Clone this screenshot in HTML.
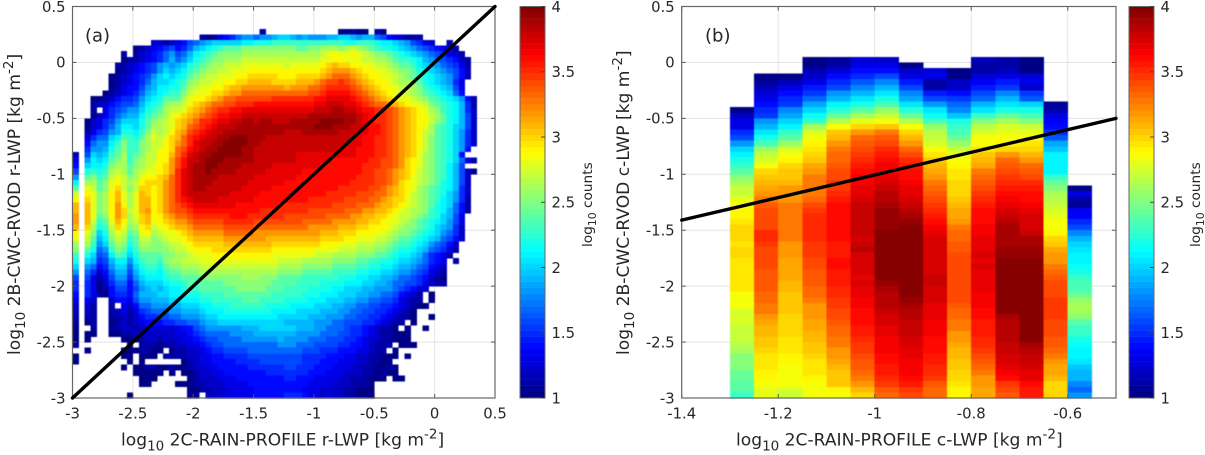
<!DOCTYPE html>
<html>
<head>
<meta charset="utf-8">
<title>LWP comparison histograms</title>
<style>
html,body{margin:0;padding:0;background:#fff;}
svg{display:block;}
text{font-family:"DejaVu Sans","Liberation Sans",sans-serif;fill:#262626;}
.tick{font-size:14.8px;}
.lab{font-size:17.1px;}
.cb{font-size:13.7px;}
</style>
</head>
<body>
<svg id="chart" width="1205" height="455" viewBox="0 0 1205 455" xmlns="http://www.w3.org/2000/svg">
<text class="lab" x="121" y="445.5">log<tspan font-size="13.5" dy="5">10</tspan><tspan dy="-5"> 2C-RAIN-PROFILE r-LWP [kg m</tspan><tspan font-size="13.5" dy="-7">-2</tspan><tspan dy="7">]</tspan></text>
<text class="lab" transform="translate(20,355) rotate(-90)">log<tspan font-size="13.5" dy="5">10</tspan><tspan dy="-5"> 2B-CWC-RVOD r-LWP [kg m</tspan><tspan font-size="13.5" dy="-7">-2</tspan><tspan dy="7">]</tspan></text>
<text class="lab" x="736" y="445.5">log<tspan font-size="13.5" dy="5">10</tspan><tspan dy="-5"> 2C-RAIN-PROFILE c-LWP [kg m</tspan><tspan font-size="13.5" dy="-7">-2</tspan><tspan dy="7">]</tspan></text>
<text class="lab" transform="translate(629,355) rotate(-90)">log<tspan font-size="13.5" dy="5">10</tspan><tspan dy="-5"> 2B-CWC-RVOD c-LWP [kg m</tspan><tspan font-size="13.5" dy="-7">-2</tspan><tspan dy="7">]</tspan></text>
<text class="cb" transform="translate(592,247) rotate(-90)">log<tspan font-size="10.8" dy="4">10</tspan><tspan dy="-4"> counts</tspan></text>
<text class="cb" transform="translate(1200,247) rotate(-90)">log<tspan font-size="10.8" dy="4">10</tspan><tspan dy="-4"> counts</tspan></text>
<text x="85" y="41.5" font-size="18">(a)</text>
<text x="705" y="41.5" font-size="18">(b)</text>
</svg>
<script>
// Panel (a): tenths of log10 counts; rows run top (0.25..0.30) to bottom (-3..-2.95), columns from x=-3 in 0.05 bins; 0 = empty.
var heatmapARows = [
[0,0,0,0,0,0,0,0,0,0,0,0,0,0,0,0,0,0,0,0,0,0,0,0,0,0,0,0,0,0,0,11,0,0,0,0,0,0,0,0,0,0,0,0,10,10,11,10,10,0,11,10],
[0,0,0,0,0,0,0,0,0,0,0,0,0,0,0,0,0,0,0,0,0,11,10,11,13,14,15,17,18,18,17,18,18,19,20,20,19,18,19,18,18,18,19,19,20,20,19,18,19,19,17,16,14,13,12,11,11,11],
[0,0,0,0,0,0,0,0,0,0,0,0,0,12,12,11,12,13,14,16,17,18,19,20,20,20,20,20,21,21,22,22,22,23,23,23,23,23,23,23,23,23,23,23,23,22,22,23,23,23,22,21,21,20,19,18,16,15,13,12,0,0,11],
[0,0,0,0,0,0,0,0,0,0,10,11,12,13,14,15,16,14,15,17,19,20,21,22,23,24,24,24,25,25,25,25,25,25,25,25,25,24,24,25,25,26,26,26,25,26,27,26,25,24,23,22,22,21,20,19,18,17,16,15,14,13,12,11],
[0,0,0,0,0,0,0,0,11,0,11,12,13,14,15,17,18,16,17,19,21,22,23,24,25,25,25,25,26,26,26,26,26,26,26,26,26,26,26,26,26,27,28,29,28,28,29,28,27,26,25,25,24,23,22,21,20,19,18,17,16,15,13,12,11],
[0,0,0,0,0,0,0,0,10,11,11,12,13,14,15,17,19,17,18,20,22,23,24,25,25,26,26,26,27,27,27,27,27,27,27,27,27,27,27,27,27,28,28,29,29,28,28,28,27,27,26,26,25,24,23,23,22,21,19,18,17,16,15,14,12,11],
[0,0,0,0,0,0,0,11,11,12,13,14,15,16,18,19,18,19,20,22,23,24,25,26,26,27,27,27,28,28,28,28,28,28,28,27,28,28,28,28,28,29,30,31,30,30,29,29,28,28,27,27,26,25,24,24,23,21,20,19,18,17,16,15,13,11],
[0,0,0,0,0,0,0,10,11,12,13,14,15,16,18,20,19,20,21,23,24,25,26,26,27,27,28,28,28,29,29,29,29,29,29,29,29,29,29,29,29,30,31,32,32,32,31,30,29,29,28,28,27,26,25,25,24,22,21,20,19,18,17,16,14,12],
[0,0,0,0,0,0,10,11,12,13,14,15,16,18,20,21,20,21,22,24,25,26,27,27,28,28,28,29,29,30,30,30,30,30,29,29,29,30,30,30,30,31,32,33,33,33,32,31,30,29,29,28,28,27,26,25,24,23,22,21,20,19,18,16,14,11],
[0,0,0,0,0,0,10,11,12,13,14,15,17,19,20,20,21,22,23,25,26,27,27,28,28,29,29,30,30,31,31,31,31,30,30,30,30,31,31,31,32,33,34,34,35,34,33,32,31,30,29,29,28,27,26,26,25,24,22,21,20,19,18,15,13],
[0,0,0,0,0,0,10,11,13,14,14,16,18,19,21,21,22,22,24,26,27,28,28,29,29,30,31,31,32,32,32,32,32,32,32,31,32,32,32,33,33,34,35,35,35,35,34,33,32,31,30,29,29,28,27,26,26,25,23,22,21,20,19,16,13],
[0,0,0,0,0,10,11,12,13,14,15,17,19,20,21,22,23,23,25,27,28,28,29,30,30,31,32,32,33,33,33,33,33,33,33,33,33,33,33,34,34,35,36,36,36,36,35,34,33,32,31,30,29,28,28,27,26,25,24,23,22,21,20,17,14],
[0,0,0,10,10,11,12,14,15,15,16,18,20,21,22,24,24,24,26,28,29,29,30,31,32,33,33,34,34,34,34,34,34,35,35,35,35,35,35,35,36,36,37,37,37,37,36,35,34,33,32,31,30,29,28,28,27,26,25,24,23,22,21,20,18,14,11],
[0,0,0,11,12,12,14,15,16,16,17,19,21,22,23,25,26,26,27,29,30,31,32,33,33,34,34,35,35,35,36,36,36,36,36,36,36,36,36,36,37,37,38,38,38,37,37,36,35,34,33,33,32,31,30,29,28,28,27,25,24,23,22,21,19,15,11],
[0,0,0,11,0,13,15,16,17,18,18,20,22,23,24,26,27,27,28,30,31,32,33,34,35,35,36,36,37,37,37,37,37,37,37,37,37,37,37,37,38,38,38,39,39,38,38,37,36,36,35,35,34,33,32,31,30,29,28,26,25,23,22,21,19,15,12],
[0,0,0,10,12,13,15,17,18,19,19,21,23,24,25,26,28,29,30,31,32,33,34,35,36,36,37,37,38,38,38,38,38,38,38,38,38,38,38,39,39,39,39,39,39,39,39,38,37,36,35,35,34,33,32,31,30,29,28,27,26,24,22,21,19,16,12],
[0,0,10,12,13,15,16,18,20,20,20,22,24,25,26,27,28,30,31,32,33,35,35,36,37,37,38,38,39,39,38,39,39,38,38,38,39,39,39,39,39,40,40,40,40,39,39,38,37,36,35,35,34,33,32,31,30,29,29,27,25,24,22,21,19,16,12],
[0,0,10,12,13,15,17,19,21,21,20,22,24,26,26,27,28,30,31,33,34,35,36,37,38,38,38,39,39,39,39,39,39,39,39,39,39,39,39,39,40,40,40,39,39,39,38,38,37,36,36,35,34,33,32,31,30,29,28,26,24,23,22,20,19,16,12],
[0,0,11,13,15,16,18,19,22,22,21,23,25,27,26,27,29,31,32,34,35,36,37,38,38,39,39,39,39,39,39,39,39,39,39,38,38,38,39,39,39,39,39,39,38,38,38,37,37,36,36,35,34,33,32,31,30,29,27,26,24,23,22,20,18,15,12],
[0,0,12,15,17,17,20,21,24,23,22,24,26,28,27,28,30,31,33,35,36,37,38,38,39,39,40,40,40,39,39,39,38,38,38,38,38,38,38,38,38,38,38,38,38,38,37,37,36,36,35,35,34,33,32,31,30,29,27,25,24,23,22,20,18,15,12],
[0,0,14,17,18,18,21,23,25,23,23,25,26,27,27,29,30,32,33,35,37,38,38,39,39,40,40,40,40,39,39,38,38,38,38,38,38,38,38,38,38,38,38,38,38,37,37,37,36,36,35,35,34,33,32,31,30,29,27,25,24,23,22,20,18,15,12],
[0,0,15,18,18,19,22,24,25,23,23,25,26,27,28,29,30,33,34,36,37,38,39,39,40,40,40,40,39,39,38,38,38,38,38,38,38,38,38,38,38,38,38,38,37,37,37,36,36,36,35,35,34,33,32,31,30,28,27,25,24,23,22,20,18,14],
[11,0,16,20,19,20,23,24,26,23,24,25,27,27,29,29,31,33,35,37,38,39,39,40,40,40,40,40,39,39,38,38,38,38,38,38,38,37,37,37,37,37,37,37,37,37,37,36,36,36,35,35,34,33,32,31,30,28,26,25,24,23,22,20,14],
[13,0,18,21,20,21,24,25,26,23,25,26,27,27,29,29,32,34,36,38,38,39,40,40,40,39,39,39,39,39,38,38,38,38,38,38,38,37,37,37,37,37,37,36,36,36,36,36,36,35,35,34,34,33,32,30,29,28,26,25,24,23,22,20,17,13,11],
[14,0,20,21,21,22,25,26,26,24,25,26,27,28,29,30,32,34,36,38,39,39,40,40,39,39,39,39,38,38,38,38,38,37,37,37,37,37,37,37,37,36,36,36,36,36,36,36,35,35,35,34,34,33,32,30,29,28,26,25,24,23,21,19,16],
[16,0,22,23,22,23,26,27,26,24,26,27,28,28,29,30,32,35,37,38,39,39,40,39,39,39,39,38,38,38,38,38,37,37,37,37,37,37,36,36,36,36,36,36,36,36,36,36,35,35,34,34,33,32,31,30,29,27,26,25,24,23,21,19,16,12,10],
[18,0,24,25,23,24,27,28,27,25,26,28,29,29,30,31,33,35,37,38,39,39,39,39,38,38,38,38,38,38,37,37,37,37,37,37,37,36,36,36,36,36,36,36,36,36,36,35,35,35,34,34,33,32,31,30,28,27,26,25,24,23,21,19,16,12],
[21,0,26,26,24,25,28,29,27,26,27,29,30,30,30,32,33,35,37,38,39,39,39,38,38,38,38,38,38,37,37,37,37,37,37,36,36,36,36,36,36,36,36,36,36,36,35,35,35,35,34,34,33,32,30,29,28,27,26,25,24,22,21,19,16,12],
[24,0,28,27,24,25,28,30,27,25,27,30,30,29,30,32,33,35,37,38,39,39,38,38,38,38,38,38,37,37,37,37,37,36,36,36,36,36,36,36,36,36,36,36,35,35,35,35,35,34,34,33,32,31,30,29,28,26,25,24,23,22,21,19,15,12],
[27,0,29,28,25,26,29,31,28,26,28,31,30,29,30,32,33,35,37,38,38,38,38,38,38,38,37,37,37,37,37,36,36,36,36,36,36,36,36,36,36,36,35,35,35,35,35,34,34,34,33,33,32,31,30,29,27,26,25,24,23,22,20,18,15,12],
[29,0,30,28,25,26,29,31,28,26,28,31,31,29,30,32,33,35,36,37,38,38,38,38,37,37,37,37,37,37,36,36,36,36,36,36,36,36,36,35,35,35,35,35,35,34,34,34,34,33,33,32,31,30,30,28,27,26,25,24,23,21,20,18,15,11],
[31,0,31,28,25,26,29,32,29,26,28,31,31,29,30,32,33,34,35,36,37,37,37,37,37,37,37,36,36,36,36,36,36,36,35,35,35,35,35,35,35,35,35,34,34,34,34,33,33,33,32,31,31,30,29,28,27,26,25,24,22,21,20,17,14,11],
[31,0,31,28,25,26,29,32,30,27,28,31,32,29,30,32,33,34,34,35,36,36,36,36,36,36,36,36,36,36,36,35,35,35,35,35,35,35,35,34,34,34,34,34,34,33,33,33,32,32,31,31,30,29,28,27,26,26,25,23,22,21,19,17,14,11],
[32,0,31,28,24,25,29,32,30,26,28,30,31,29,29,31,32,33,33,34,35,35,35,35,35,35,36,36,36,35,35,35,35,35,35,34,34,34,34,34,34,34,33,33,33,33,32,32,31,31,30,30,29,28,27,27,26,25,24,23,22,20,19,16,13],
[32,0,31,27,23,24,28,31,29,26,27,30,31,28,29,30,31,32,32,33,34,34,34,34,34,35,35,35,35,35,34,34,34,34,34,34,34,34,33,33,33,33,33,32,32,32,32,31,31,30,30,29,28,28,27,26,25,24,23,22,21,20,18,16,13],
[31,0,30,26,22,23,27,30,28,25,26,29,30,27,28,29,30,31,31,32,33,33,33,33,33,34,34,34,34,34,33,33,33,33,33,33,33,33,33,32,32,32,32,32,31,31,31,30,30,29,29,29,28,27,26,25,25,24,23,22,20,19,18,15,12],
[29,0,28,25,20,22,26,28,27,24,25,28,29,26,27,28,28,29,30,31,32,32,32,32,32,33,33,33,33,33,32,32,32,32,32,32,32,32,32,32,32,31,31,31,30,30,30,29,29,29,28,28,27,26,25,25,24,23,22,21,20,18,17,15,12],
[28,0,27,24,19,21,25,27,26,23,24,27,27,25,26,27,28,28,29,30,31,31,31,31,31,32,32,32,32,32,32,32,31,31,31,31,31,31,31,31,31,30,30,30,30,29,29,28,28,28,27,27,26,25,24,24,23,22,21,20,19,17,16,14,12],
[26,0,26,23,18,20,24,26,25,22,24,26,26,25,25,26,27,27,28,29,30,30,30,30,30,31,31,31,31,31,31,31,31,30,30,30,30,30,30,30,30,29,29,29,28,28,28,27,27,27,26,26,25,24,23,23,22,21,20,18,17,16,14,12],
[25,0,24,22,17,18,23,25,24,21,23,25,25,25,25,25,26,27,27,28,29,29,29,30,30,30,30,30,30,30,30,30,30,29,29,29,29,29,29,29,28,28,28,28,27,27,27,26,26,26,25,25,24,23,22,22,21,20,19,17,16,15,13,11],
[23,0,22,20,16,17,21,24,23,20,22,24,24,24,24,25,25,26,26,27,28,28,28,29,29,29,29,29,29,29,29,29,29,28,28,28,28,28,28,28,27,27,27,26,26,26,26,25,25,25,24,24,23,22,21,21,20,19,17,15,14,13,11],
[22,0,20,19,15,16,19,21,21,18,21,23,24,24,23,25,26,26,27,27,27,28,28,28,28,28,28,28,28,28,28,28,28,28,27,27,27,27,26,26,26,26,26,25,25,25,25,24,24,23,23,22,22,21,20,20,19,18,17,15,14,13,0,11],
[20,0,18,17,14,15,18,20,20,17,20,22,23,23,22,24,25,25,26,26,26,27,27,27,27,27,27,27,27,27,27,27,27,27,26,26,26,26,25,25,25,25,25,24,24,24,24,23,23,22,22,21,21,20,19,19,18,17,16,14,13,12],
[18,0,17,15,12,14,17,19,19,16,19,21,22,22,21,23,24,24,25,25,25,26,26,26,26,26,26,26,26,26,26,26,26,26,25,25,25,25,24,24,24,24,24,23,23,23,23,22,22,21,21,20,20,19,18,18,17,16,15,13,12,11],
[16,0,16,13,11,13,16,18,18,15,18,20,21,21,21,22,23,23,24,24,24,25,25,25,25,25,25,25,26,26,26,25,25,25,24,24,24,24,23,23,23,23,23,23,22,22,22,21,21,20,20,19,19,18,17,17,16,15,14,12,11,10],
[15,0,15,13,10,12,15,17,17,14,17,19,20,20,20,21,22,22,23,24,24,24,24,24,24,25,25,25,25,25,25,25,25,24,24,24,24,23,23,23,23,22,22,22,22,21,21,21,20,20,19,19,18,17,17,16,16,15,13,12,11,11],
[15,0,15,13,10,11,14,16,16,14,16,18,19,20,19,20,21,21,22,23,23,24,24,24,24,24,24,25,25,25,25,25,24,24,24,23,23,23,23,22,22,22,22,21,21,20,20,20,19,19,18,18,18,17,16,15,14,13,12],
[14,0,15,13,11,10,14,15,15,14,17,19,19,19,20,20,21,21,21,22,22,23,23,23,23,24,24,24,24,24,24,24,24,23,23,23,23,23,22,22,22,21,21,21,20,20,20,19,19,18,18,17,17,16,14,13,12,11,0,10],
[13,0,13,12,0,0,12,14,14,13,16,18,18,19,19,19,20,20,21,21,21,22,22,23,23,23,23,23,24,24,24,23,23,23,23,22,22,22,22,21,21,21,20,20,20,19,19,18,18,17,17,16,16,15,13,12,11,11,0,10],
[12,0,12,11,0,0,11,0,13,12,14,17,17,18,18,18,19,19,20,20,20,21,21,22,22,22,23,23,23,23,23,23,22,22,22,22,21,21,21,21,20,20,20,19,19,18,18,17,17,16,16,15,15,14,13,12,11,10,10],
[12,0,12,11,0,0,11,12,13,11,13,15,16,17,17,17,18,18,19,19,19,20,21,21,21,22,22,22,22,22,22,22,22,21,21,21,21,20,20,20,20,19,19,19,18,18,17,17,16,16,15,15,14,13,12,11,10],
[11,0,11,11,0,0,11,11,12,11,12,14,15,15,16,16,17,17,18,18,18,19,20,20,21,21,21,21,21,21,21,21,21,21,20,20,20,20,20,19,19,19,18,18,18,17,17,16,16,15,15,14,13,12,11,11,10,0,0,10],
[11,0,10,11,0,0,10,11,12,11,12,13,14,14,14,15,15,16,16,17,17,18,19,19,20,20,20,20,20,20,20,20,20,20,20,19,19,19,19,19,18,18,18,17,17,16,16,16,15,15,14,13,12,11,11,0,10],
[10,0,0,11,0,0,11,11,12,12,11,12,13,13,12,13,12,13,14,14,16,17,18,18,18,18,18,18,19,19,19,20,20,20,20,20,20,19,19,19,18,18,17,17,17,16,15,15,14,13,12,11,11,10,0,10,0,0,10],
[10,0,10,10,0,0,10,10,11,11,12,12,12,12,12,12,12,13,13,14,15,16,17,17,17,17,18,18,18,18,19,19,19,19,19,19,19,18,18,18,18,17,17,17,16,16,15,15,14,13,12,11,11,10,10,10],
[10,0,10,0,0,0,0,0,10,10,11,11,12,12,11,12,12,12,13,13,14,15,16,16,17,17,17,17,18,18,18,18,18,18,19,18,18,18,18,17,17,17,16,16,16,15,15,14,13,12,12,11,11,10,10,10],
[11,0,0,0,0,0,0,0,0,10,0,11,11,11,10,11,11,12,12,13,13,14,15,16,16,17,17,17,17,17,17,17,17,17,18,18,18,17,17,17,16,16,16,16,15,15,14,14,13,12,11,11,11,0,10,10,10],
[0,0,10,0,0,0,0,0,10,10,10,11,11,10,10,0,10,11,11,12,12,13,14,15,15,16,16,16,16,17,17,17,17,17,17,17,17,17,16,16,16,15,15,15,14,14,14,13,13,12,11,11,0,10],
[10,0,0,0,0,0,0,0,10,10,0,10,10,10,0,11,11,11,11,12,12,13,13,14,14,15,15,15,15,16,16,16,16,16,16,16,16,16,15,15,15,15,14,14,14,13,13,12,12,11,11,10,10,10,0,10],
[10,0,0,0,0,0,0,0,0,10,0,10,0,0,0,0,0,0,10,11,12,13,13,14,14,14,14,15,15,15,15,16,16,16,16,16,16,16,15,15,15,14,14,14,13,13,13,12,12,11,11,10,10],
[0,0,0,0,0,0,0,0,10,0,10,10,11,11,10,10,11,10,10,11,12,12,13,13,14,14,14,14,14,15,15,15,15,15,15,16,16,15,15,15,14,14,14,13,13,13,12,12,11,11,10,10,11,10],
[0,0,0,0,0,0,0,0,0,0,10,10,10,10,10,0,10,0,10,10,11,12,12,13,13,14,14,14,14,14,14,14,15,15,15,15,15,15,15,14,14,14,13,13,13,12,12,12,11,11,10,11,10,10],
[0,0,0,0,0,0,0,0,0,0,0,10,10,10,0,0,0,0,0,10,11,12,12,12,13,13,13,14,14,14,14,14,14,14,14,15,15,14,14,14,13,13,13,13,12,12,11,11,11,10,10,10,0,10,10],
[0,0,0,0,0,0,0,0,0,0,0,10,10,0,0,0,0,10,10,10,11,11,12,12,12,13,13,13,13,14,14,14,14,14,14,14,14,14,14,13,13,13,13,12,12,12,11,11,11,10],
[0,0,0,0,0,0,0,0,0,0,0,0,0,0,0,0,0,0,0,10,10,11,11,12,12,12,13,13,13,13,14,14,14,14,14,14,14,14,13,13,13,12,12,12,12,11,11,10,10,10],
[0,0,0,0,0,0,0,0,0,10,0,0,0,0,0,0,0,0,0,10,10,0,12,12,12,13,13,13,13,13,14,14,14,14,14,15,15,15,14,13,13,12,13,12,12,11,11,10,10,10]
];
// Panel (b): log10 counts; one array per x bin (from -1.3, 0.05 wide); entries run top (0..0.05) downward in 0.05 bins; 0 = empty.
var binB0 = [0,0,0,0,0,0,0,0,0,1.0,1.2,1.3,1.3,1.5,1.6,1.8,2.0,2.1,2.2,2.3,2.4,2.5,2.6,2.7,2.7,2.8,2.85,2.9,2.9,2.95,3.0,3.0,3.0,2.95,3.0,3.0,2.95,2.95,2.95,2.95,2.95,2.95,2.85,2.85,2.85,2.75,2.75,2.75,2.7,2.7,2.7,2.65,2.6,2.5,2.5,2.5,2.45,2.45,2.4,2.4,2.3];
var binB1 = [0,0,0,1.0,1.05,1.15,1.25,1.3,1.4,1.5,1.55,1.8,1.9,2.05,2.2,2.35,2.55,2.7,2.75,2.85,3.0,3.05,3.1,3.15,3.2,3.25,3.35,3.4,3.4,3.4,3.4,3.5,3.5,3.45,3.4,3.4,3.4,3.4,3.35,3.35,3.35,3.35,3.3,3.3,3.25,3.25,3.2,3.15,3.1,3.1,3.05,3.05,3.0,2.95,2.95,2.95,2.9,2.9,2.85,2.8,2.8];
var binB2 = [0,0,0,1.0,1.15,1.3,1.4,1.5,1.55,1.75,1.85,2.0,2.1,2.3,2.4,2.55,2.75,2.85,2.9,3.0,3.05,3.05,3.1,3.2,3.2,3.2,3.25,3.25,3.25,3.25,3.25,3.25,3.25,3.2,3.2,3.2,3.15,3.15,3.15,3.15,3.1,3.1,3.05,3.05,3.05,3.05,3.0,3.0,3.0,3.0,2.95,2.95,2.95,2.9,2.9,2.85,2.85,2.85,2.85,2.75,2.7];
var binB3 = [1.0,1.0,1.15,1.2,1.3,1.45,1.55,1.7,1.85,2.0,2.15,2.3,2.6,2.75,2.85,2.9,2.95,3.0,3.05,3.15,3.2,3.25,3.25,3.25,3.25,3.3,3.4,3.45,3.5,3.5,3.5,3.5,3.5,3.45,3.45,3.45,3.4,3.4,3.35,3.35,3.35,3.3,3.3,3.25,3.2,3.2,3.2,3.15,3.15,3.1,3.1,3.05,3.05,3.0,2.95,2.95,2.95,2.9,2.85,2.85,2.85];
var binB4 = [1.05,1.1,1.25,1.4,1.5,1.6,1.8,1.9,2.1,2.25,2.45,2.65,2.85,3.05,3.1,3.2,3.25,3.3,3.3,3.35,3.4,3.4,3.45,3.45,3.5,3.55,3.6,3.6,3.6,3.6,3.6,3.6,3.6,3.55,3.55,3.55,3.6,3.6,3.55,3.55,3.55,3.5,3.5,3.45,3.45,3.4,3.4,3.35,3.3,3.3,3.25,3.25,3.2,3.2,3.15,3.1,3.05,3.05,3.05,2.9,2.85];
var binB5 = [1.25,1.3,1.4,1.5,1.65,1.75,1.9,2.05,2.2,2.4,2.6,2.8,3.0,3.2,3.3,3.35,3.4,3.45,3.5,3.55,3.6,3.65,3.65,3.7,3.7,3.75,3.8,3.8,3.8,3.8,3.8,3.8,3.75,3.8,3.85,3.75,3.75,3.75,3.75,3.7,3.75,3.7,3.7,3.65,3.65,3.6,3.6,3.6,3.55,3.55,3.5,3.45,3.45,3.4,3.35,3.35,3.3,3.25,3.2,3.1,3.0];
var binB6 = [1.2,1.3,1.4,1.6,1.75,1.9,2.05,2.2,2.35,2.55,2.7,2.85,3.05,3.25,3.35,3.4,3.5,3.55,3.6,3.65,3.65,3.7,3.75,3.8,3.85,3.85,3.9,3.95,3.95,3.95,3.95,4,4,4,4,4,4,4,4,4,3.95,3.9,3.85,3.85,3.85,3.8,3.75,3.75,3.7,3.7,3.65,3.65,3.65,3.6,3.6,3.55,3.55,3.5,3.45,3.35,3.3];
var binB7 = [0,1.0,1.2,1.3,1.45,1.6,1.75,1.85,2.05,2.25,2.45,2.65,2.85,3.0,3.1,3.2,3.3,3.4,3.5,3.55,3.6,3.6,3.65,3.7,3.7,3.75,3.8,3.85,3.9,3.95,4,4,4,4,4,4,4,4,4,4,4,4,4,3.95,3.9,3.85,3.85,3.8,3.8,3.8,3.75,3.75,3.7,3.7,3.65,3.65,3.65,3.6,3.55,3.45,3.4];
var binB8 = [0,0,1.25,1.3,1.1,1.1,1.45,1.6,1.8,2.05,2.15,2.35,2.55,2.65,2.7,2.75,2.85,2.95,3.05,3.1,3.15,3.2,3.25,3.3,3.35,3.4,3.45,3.5,3.55,3.6,3.65,3.7,3.75,3.75,3.75,3.75,3.75,3.75,3.75,3.8,3.8,3.75,3.75,3.75,3.7,3.7,3.7,3.65,3.65,3.65,3.6,3.6,3.6,3.55,3.55,3.5,3.5,3.45,3.35,3.3,3.3];
var binB9 = [0,0,1.0,1.0,1.2,1.2,1.4,1.55,1.7,1.75,1.95,2.2,2.3,2.35,2.45,2.55,2.7,2.8,2.85,2.9,2.95,2.95,3.0,3.0,3.0,3.05,3.1,3.15,3.15,3.2,3.25,3.3,3.3,3.35,3.35,3.4,3.4,3.4,3.4,3.4,3.4,3.4,3.4,3.4,3.35,3.3,3.3,3.25,3.25,3.2,3.2,3.15,3.1,3.1,3.05,3.05,3.0,3.0,2.95,2.9,2.9];
var binB10 = [1.15,1.1,1.1,1.25,1.35,1.45,1.6,1.7,1.9,2.05,2.3,2.5,2.65,2.75,2.85,2.85,2.95,3.05,3.1,3.15,3.25,3.3,3.35,3.4,3.45,3.5,3.55,3.6,3.6,3.6,3.65,3.65,3.7,3.7,3.7,3.75,3.7,3.75,3.7,3.7,3.7,3.7,3.65,3.65,3.65,3.6,3.6,3.55,3.55,3.55,3.5,3.5,3.45,3.4,3.35,3.3,3.25,3.2,3.2,3.15,3.15];
var binB11 = [1.1,1.1,1.15,1.3,1.45,1.55,1.75,1.9,2.05,2.2,2.45,2.6,2.75,2.8,2.85,2.9,3.0,3.2,3.3,3.35,3.4,3.45,3.5,3.55,3.6,3.65,3.7,3.75,3.8,3.85,3.9,3.9,3.9,3.9,3.95,3.95,4,4,4,4,4,4,4,4,4,4,3.9,3.85,3.85,3.85,3.85,3.8,3.8,3.75,3.75,3.7,3.65,3.6,3.45,3.4,3.35];
var binB12 = [1.0,1.0,1.0,1.25,1.3,1.2,1.55,1.65,2.0,2.2,2.35,2.5,2.7,2.8,2.85,2.95,3.0,3.1,3.2,3.3,3.35,3.4,3.5,3.55,3.6,3.6,3.65,3.7,3.75,3.75,3.75,3.8,3.9,3.9,3.95,3.95,4,4,4,4,4,4,4,4,4,4,4,4,4,4,4,3.9,3.85,3.8,3.8,3.75,3.7,3.7,3.6,3.55,3.55];
var binB13 = [0,0,0,0,0,0,0,0,1.05,1.1,1.3,1.35,1.4,1.5,1.65,1.85,1.95,2.1,2.1,2.1,2.1,2.3,2.45,2.5,2.6,2.65,2.7,2.75,2.8,2.85,2.85,2.9,3.0,3.05,3.15,3.2,3.2,3.25,3.3,3.35,3.4,3.4,3.4,3.45,3.45,3.45,3.45,3.4,3.4,3.4,3.35,3.35,3.3,3.25,3.2,3.15,3.15,3.1,3.0,3.0,3.0];
var binB14 = [0,0,0,0,0,0,0,0,0,0,0,0,0,0,0,0,0,0,0,0,0,0,0,1.0,1.3,1.1,1.05,1.35,1.35,1.5,1.6,1.75,1.9,2.0,2.05,2.1,2.1,2.15,2.2,2.3,2.35,2.35,2.45,2.55,2.6,2.6,2.5,2.4,2.3,2.3,2.2,2.15,2.1,2.1,2.05,1.95,1.9,1.9,1.75,1.7,1.8];
var heatmapBColumns = [binB0,binB1,binB2,binB3,binB4,binB5,binB6,binB7,binB8,binB9,binB10,binB11,binB12,binB13,binB14];
// Ticks
var xTicksA = [-3,-2.5,-2,-1.5,-1,-0.5,0,0.5];
var xTickLabelsA = ["-3","-2.5","-2","-1.5","-1","-0.5","0","0.5"];
var yTicks = [-3,-2.5,-2,-1.5,-1,-0.5,0,0.5];
var yTickLabels = ["-3","-2.5","-2","-1.5","-1","-0.5","0","0.5"];
var xTicksB = [-1.4,-1.2,-1,-0.8,-0.6];
var xTickLabelsB = ["-1.4","-1.2","-1","-0.8","-0.6"];
var colorbarTicks = [1,1.5,2,2.5,3,3.5,4];
var colorbarTickLabels = ["1","1.5","2","2.5","3","3.5","4"];
// Fit lines (x, y data coordinates)
var fitLineAX = [-3,0.5];
var fitLineAY = [-3,0.5];
var fitLineBX = [-1.4,-0.5];
var fitLineBY = [-1.41,-0.5];

var NS = 'http://www.w3.org/2000/svg';
var svg = document.getElementById('chart');
var PLOT_TOP = 6.5, PLOT_BOTTOM = 398;
function yScale(v){ return PLOT_TOP + (0.5 - v) * (PLOT_BOTTOM - PLOT_TOP) / 3.5; }
function xScaleA(v){ return 72.5 + (v + 3) * (495 - 72.5) / 3.5; }
function xScaleB(v){ return 681.7 + (v + 1.4) * (1116 - 681.7) / 0.9; }
function clamp01(v){ return Math.max(0, Math.min(1, v)); }
function jet(v){
  var idx = Math.min(63, Math.max(0, Math.floor((v - 1) / 3 * 64)));
  var t = (idx + 0.5) / 64;
  var r = clamp01(1.5 - Math.abs(4 * t - 3));
  var g = clamp01(1.5 - Math.abs(4 * t - 2));
  var b = clamp01(1.5 - Math.abs(4 * t - 1));
  return 'rgb(' + Math.round(r * 255) + ',' + Math.round(g * 255) + ',' + Math.round(b * 255) + ')';
}
function mk(tag, attrs, parent){
  var el = document.createElementNS(NS, tag);
  for (var k in attrs) el.setAttribute(k, attrs[k]);
  parent.appendChild(el);
  return el;
}
function drawAxes(prefix, xs, xTicks, xLabels){
  var left = xs(xTicks === xTicksA ? -3 : -1.4), right = xs(0.5 + (xTicks === xTicksA ? 0 : -1));
  var g = mk('g', {}, svg);
  
  
  xTicks.forEach(function(t){
    var l = mk('line', {x1: xs(t), x2: xs(t), y1: PLOT_TOP, y2: PLOT_BOTTOM, stroke: '#e3e3e3', 'stroke-width': 1}, g);
    
    
  });
  yTicks.forEach(function(t){
    var l = mk('line', {x1: left, x2: right, y1: yScale(t), y2: yScale(t), stroke: '#e3e3e3', 'stroke-width': 1}, g);
    
    
  });
  return {left: left, right: right};
}
function drawFrame(prefix, xs, xTicks, xLabels, box){
  var g = mk('g', {}, svg);
  
  
  xTicks.forEach(function(t, i){
    mk('line', {x1: xs(t), x2: xs(t), y1: PLOT_BOTTOM, y2: PLOT_BOTTOM - 4, stroke: '#555', 'stroke-width': 1}, g);
    mk('line', {x1: xs(t), x2: xs(t), y1: PLOT_TOP, y2: PLOT_TOP + 4, stroke: '#555', 'stroke-width': 1}, g);
    var tx = mk('text', {x: xs(t), y: 418.5, 'text-anchor': 'middle', 'class': 'tick'}, g);
    tx.textContent = xLabels[i];
    
    
  });
  yTicks.forEach(function(t, i){
    mk('line', {x1: box.left, x2: box.left + 4, y1: yScale(t), y2: yScale(t), stroke: '#555', 'stroke-width': 1}, g);
    mk('line', {x1: box.right, x2: box.right - 4, y1: yScale(t), y2: yScale(t), stroke: '#555', 'stroke-width': 1}, g);
    var tx = mk('text', {x: box.left - 7, y: yScale(t) + 5.3, 'text-anchor': 'end', 'class': 'tick'}, g);
    tx.textContent = yTickLabels[i];
    
    
  });
  var fr = mk('rect', {x: box.left, y: PLOT_TOP, width: box.right - box.left, height: PLOT_BOTTOM - PLOT_TOP, fill: 'none', stroke: '#666', 'stroke-width': 1.2}, g);
  
  
}
function drawColorbar(prefix, x0, x1){
  var g = mk('g', {}, svg);
  
  
  var h = (PLOT_BOTTOM - PLOT_TOP) / 64;
  for (var i = 0; i < 64; i++) {
    var r = mk('rect', {x: x0, y: PLOT_BOTTOM - (i + 1) * h - 0.1, width: x1 - x0, height: h + 0.2, fill: jet(1 + (i + 0.5) * 3 / 64)}, g);
    
    
  }
  mk('rect', {x: x0, y: PLOT_TOP, width: x1 - x0, height: PLOT_BOTTOM - PLOT_TOP, fill: 'none', stroke: '#666', 'stroke-width': 1}, g);
  colorbarTicks.forEach(function(t, i){
    var y = PLOT_BOTTOM - (t - 1) / 3 * (PLOT_BOTTOM - PLOT_TOP);
    mk('line', {x1: x1, x2: x1 - 4, y1: y, y2: y, stroke: '#444', 'stroke-width': 1}, g);
    var tx = mk('text', {x: x1 + 6.5, y: y + 5.3, 'class': 'tick'}, g);
    tx.textContent = colorbarTickLabels[i];
    
    
  });
}
function drawFit(name, xs, lx, ly){
  var l = mk('line', {x1: xs(lx[0]), y1: yScale(ly[0]), x2: xs(lx[1]), y2: yScale(ly[1]), stroke: '#000', 'stroke-width': 3.4, 'stroke-linecap': 'round'}, svg);
  
  
}

// Panel (a)
var boxA = drawAxes('panel-a', xScaleA, xTicksA, xTickLabelsA);
var cellsA = mk('g', {'shape-rendering': 'crispEdges', style: 'filter:blur(0.4px)'}, svg);


heatmapARows.forEach(function(row, j){
  var yTop = 0.3 - 0.05 * j;
  row.forEach(function(v, i){
    if (!v) return;
    var xL = -3 + 0.05 * i;
    var r = mk('rect', {x: xScaleA(xL), y: yScale(yTop), width: xScaleA(xL + 0.05) - xScaleA(xL) + 0.3, height: yScale(yTop - 0.05) - yScale(yTop) + 0.3, fill: jet(v / 10)}, cellsA);
    
    
  });
});
drawFrame('panel-a', xScaleA, xTicksA, xTickLabelsA, boxA);
drawFit('panel-a-one-to-one-line', xScaleA, fitLineAX, fitLineAY);
drawColorbar('panel-a', 520, 545);

// Panel (b)
var boxB = drawAxes('panel-b', xScaleB, xTicksB, xTickLabelsB);
var cellsB = mk('g', {'shape-rendering': 'crispEdges', style: 'filter:blur(0.4px)'}, svg);


heatmapBColumns.forEach(function(col, i){
  var xL = -1.3 + 0.05 * i;
  col.forEach(function(v, j){
    if (!v) return;
    var yTop = 0.05 - 0.05 * j;
    var r = mk('rect', {x: xScaleB(xL), y: yScale(yTop), width: xScaleB(xL + 0.05) - xScaleB(xL) + 0.3, height: yScale(yTop - 0.05) - yScale(yTop) + 0.3, fill: jet(v)}, cellsB);
    
    
  });
});
drawFrame('panel-b', xScaleB, xTicksB, xTickLabelsB, boxB);
drawFit('panel-b-one-to-one-line', xScaleB, fitLineBX, fitLineBY);
drawColorbar('panel-b', 1129, 1154);
</script>
</body>
</html>
